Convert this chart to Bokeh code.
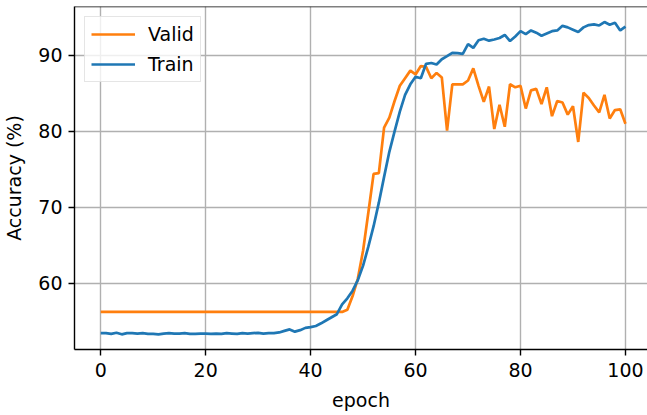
from bokeh.plotting import figure
from bokeh.models import Range1d, Legend, LegendItem, Span, FixedTicker, ColumnDataSource
from bokeh.embed import file_html
from bokeh.resources import INLINE

# Training history: accuracy (%) per epoch
epochs = list(range(0, 101))

valid_acc = [56.2] * 47 + [
    56.5, 58.3, 60.6, 64.3, 69.3, 74.4, 74.5, 80.5, 81.8,           # 47-55
    84.0, 86.0, 87.0, 88.0, 87.5, 88.6, 88.5, 87.0, 87.7, 87.1,     # 56-65
    80.1, 86.2, 86.2, 86.2, 86.7, 88.3, 86.0, 83.9, 85.9, 80.3,     # 66-75
    83.5, 80.6, 86.2, 85.8, 86.0, 83.0, 85.4, 85.6, 83.6, 85.8,     # 76-85
    82.0, 84.0, 83.8, 82.2, 83.3, 78.6, 85.1, 84.4, 83.4, 82.5,     # 86-95
    84.8, 81.7, 82.8, 82.9, 81.0,                                   # 96-100
]

train_acc = [
    53.4, 53.4, 53.3, 53.45, 53.25, 53.4, 53.4, 53.35, 53.4, 53.3,  # 0-9
    53.3, 53.25, 53.35, 53.4, 53.35, 53.35, 53.4, 53.3, 53.3, 53.35,  # 10-19
    53.35, 53.3, 53.35, 53.3, 53.4, 53.35, 53.3, 53.4, 53.35, 53.4,  # 20-29
    53.45, 53.35, 53.4, 53.4, 53.5, 53.7, 53.9, 53.6, 53.8, 54.1,   # 30-39
    54.2, 54.35, 54.7, 55.1, 55.5, 55.9, 57.2, 58.0, 59.0, 60.4,    # 40-49
    62.3, 64.8, 67.5, 70.6, 74.0, 77.3, 80.0, 82.6, 84.8, 86.2,     # 50-59
    87.2, 87.0, 88.9, 89.0, 88.8, 89.5, 89.9, 90.35, 90.3, 90.2,    # 60-69
    91.5, 91.0, 92.0, 92.2, 91.95, 92.1, 92.3, 92.7, 91.9, 92.5,    # 70-79
    93.2, 92.8, 93.3, 93.0, 92.6, 92.9, 93.2, 93.3, 93.9, 93.7,     # 80-89
    93.4, 93.1, 93.7, 94.0, 94.1, 93.95, 94.4, 94.05, 94.3, 93.3,   # 90-99
    93.8,                                                           # 100
]

x_ticks = [0, 20, 40, 60, 80, 100]
y_ticks = [60, 70, 80, 90]

FONT = "DejaVu Sans"
FS = "19px"
ORANGE = "#ff7f0e"
BLUE = "#1f77b4"

src = ColumnDataSource(dict(epoch=epochs, valid=valid_acc, train=train_acc))

y_lo, y_hi = 51.25, 96.45
p = figure(
    frame_width=573, frame_height=343,
    min_border_left=74, min_border_right=0, min_border_top=6, min_border_bottom=66,
    x_range=Range1d(-5, 104.2), y_range=Range1d(y_lo, y_hi),
    output_backend="svg", toolbar_location=None,
)
p.outline_line_color = None
p.background_fill_color = "white"
p.border_fill_color = "white"

r_valid = p.line("epoch", "valid", source=src, line_color=ORANGE, line_width=2.7)
r_train = p.line("epoch", "train", source=src, line_color=BLUE, line_width=2.7)

# top spine
p.add_layout(Span(location=y_hi, dimension="width", line_color="black", line_width=1.4))

for ax in (p.xaxis[0], p.yaxis[0]):
    ax.axis_line_color = "black"
    ax.axis_line_width = 1.4
    ax.major_tick_line_color = "black"
    ax.major_tick_line_width = 1.4
    ax.major_tick_out = 6
    ax.major_tick_in = 0
    ax.minor_tick_line_color = None
    ax.major_label_text_font = FONT
    ax.major_label_text_font_size = FS
    ax.major_label_text_color = "black"
    ax.axis_label_text_font = FONT
    ax.axis_label_text_font_size = FS
    ax.axis_label_text_font_style = "normal"
    ax.axis_label_text_color = "black"

p.xaxis.ticker = FixedTicker(ticks=x_ticks)
p.yaxis.ticker = FixedTicker(ticks=y_ticks)
p.xaxis.axis_label = "epoch"
p.yaxis.axis_label = "Accuracy (%)"
p.xaxis.major_label_standoff = 7
p.yaxis.major_label_standoff = 6
p.xaxis.axis_label_standoff = 9
p.yaxis.axis_label_standoff = 10

p.xgrid.ticker = FixedTicker(ticks=x_ticks)
p.ygrid.ticker = FixedTicker(ticks=y_ticks)
for g in (p.xgrid[0], p.ygrid[0]):
    g.grid_line_color = "#b0b0b0"
    g.grid_line_width = 1.4

legend = Legend(
    items=[LegendItem(label="Valid", renderers=[r_valid]),
           LegendItem(label="Train", renderers=[r_train])],
    location="top_left",
    margin=10,
    padding=6,
    spacing=8,
    label_height=22,
    glyph_height=22,
    glyph_width=44,
    label_standoff=13,
    label_text_font=FONT,
    label_text_font_size=FS,
    label_text_color="black",
    border_line_color="#cccccc",
    border_line_width=1.4,
    background_fill_color="white",
    background_fill_alpha=0.8,
)
p.add_layout(legend)

open("out.html", "w").write(file_html(p, INLINE))
